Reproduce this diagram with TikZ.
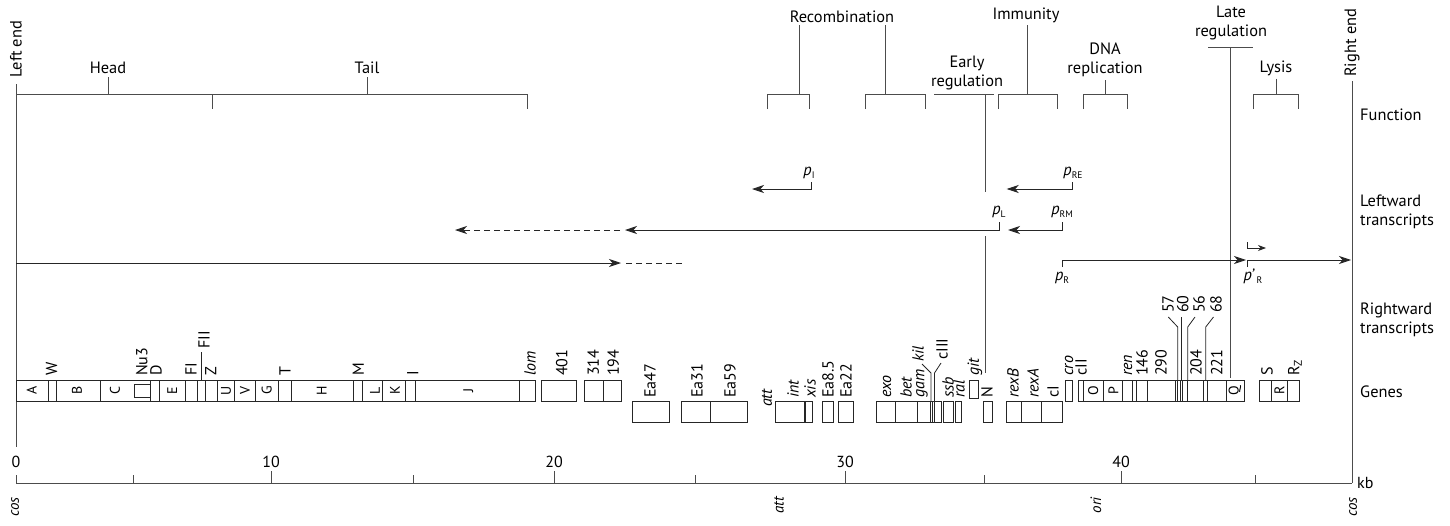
\documentclass[tikz,border=0pt]{standalone}
\usepackage{fontspec}
\setmainfont{PT Sans}
\usetikzlibrary{arrows.meta,positioning,calc}
\newcommand\prmLbl[1]{{\itshape p}\raisebox{-3pt}{\fontsize{9.5}{9.5}\selectfont #1}}
\tikzset{
  gnBox/.style={draw=black!85, line width=0.8pt},
  gnLbl/.style={rotate=90, anchor=west, inner sep=0pt, font=\fontsize{16}{16}\selectfont},
  gnIn/.style={rotate=90, inner sep=0pt, font=\fontsize{14}{14}\selectfont},
  fnTxt/.style={align=center, inner sep=3pt, font=\fontsize{16.4}{19.5}\selectfont},
  rowTxt/.style={anchor=west, align=left, inner sep=0pt, font=\fontsize{16.4}{19}\selectfont},
  endTxt/.style={rotate=90, anchor=west, inner sep=0pt, font=\fontsize{16.4}{16}\selectfont},
  axTxt/.style={inner sep=0pt, font=\fontsize{16}{16}\selectfont},
  siteTxt/.style={rotate=90, anchor=east, inner sep=0pt, font=\fontsize{15}{15}\selectfont\itshape},
  brk/.style={draw=black!70, line width=0.9pt},
  trLine/.style={draw=black!85, line width=0.9pt},
  trArr/.style={trLine, -{Stealth[length=12pt,width=8pt,inset=3.5pt]}},
  trDash/.style={trArr, dash pattern=on 6pt off 4pt},
  prTxt/.style={inner sep=0pt, font=\fontsize{16.4}{16}\selectfont},
}
\begin{document}
\begin{tikzpicture}[x=1pt, y=-1pt]
\useasboundingbox (0,0) rectangle (1450,525);

%% Ends of the map
\node[endTxt] (lEnd) at (16,78) {Left end};
\node[endTxt] (rEnd) at (1352,77) {Right end};
\draw[brk] (16,84) -- (16,447);
\draw[brk] (1352,81) -- (1352,483);

%% Function brackets
\node[fnTxt] (fHead) at (108,68) {Head};
\node[fnTxt] (fTail) at (367,68) {Tail};
\draw[brk] (16,94) -- (527,94) (212,94) -- (212,109) (527,94) -- (527,109);
\draw[brk] (fHead.south) -- (fHead.south |- 0,94);
\draw[brk] (fTail.south) -- (fTail.south |- 0,94);

\node[fnTxt] (fRecomb) at (842,17) {Recombination};
\draw[brk] (799.3,25) -- (799.3,94) (767,109) -- (767,94) -- (809.3,94) -- (809.3,109);
\draw[brk] (885,25) -- (885,94) (865.7,109) -- (865.7,94) -- (925,94) -- (925,109);

\node[fnTxt] (fEarly) at (967,73) {Early\\regulation};
\draw[brk] (934,94) -- (994,94) (985,94) -- (985,192) (985,236) -- (985,373);

\node[fnTxt] (fImm) at (1026,15) {Immunity};
\draw[brk] (1027.3,25) -- (1027.3,94) (998.7,109) -- (998.7,94) -- (1057.7,94) -- (1057.7,109);

\node[fnTxt] (fDNA) at (1105,60) {DNA\\replication};
\draw[brk] (fDNA.south) -- (fDNA.south |- 0,94) (1083.3,109) -- (1083.3,94) -- (1127.3,94) -- (1127.3,109);

\node[fnTxt] (fLate) at (1231,23) {Late\\regulation};
\draw[brk] (1208.3,47.7) -- (1252.7,47.7) (1230.7,47.7) -- (1230.7,378);

\node[fnTxt] (fLysis) at (1276,68) {Lysis};
\draw[brk] (fLysis.south) -- (fLysis.south |- 0,94) (1253.3,109) -- (1253.3,94) -- (1298.3,94) -- (1298.3,109);

%% Row titles
\node[rowTxt] (rFunc) at (1360,115) {Function};
\node[rowTxt] (rLeft) at (1360,212) {Leftward\\transcripts};
\node[rowTxt] (rRight) at (1360,320) {Rightward\\transcripts};
\node[rowTxt] (rGenes) at (1360,392) {Genes};

%% Leftward transcripts
\node[prTxt] (pI) at (809,173) {\prmLbl{I}};
\draw[trArr] (811.7,182) -- (811.7,189) -- (752,189);
\node[prTxt] (pRE) at (1073,173) {\prmLbl{RE}};
\draw[trArr] (1072.7,182) -- (1072.7,189) -- (1006.7,189);
\node[prTxt] (pL) at (999,212) {\prmLbl{L}};
\draw[trArr] (999,222) -- (999,230) -- (625,230);
\draw[trDash] (620,230) -- (455,230);
\node[prTxt] (pRM) at (1062,212) {\prmLbl{RM}};
\draw[trArr] (1062.7,222) -- (1062.7,230) -- (1008,230);

%% Rightward transcripts
\draw[trArr] (16,263) -- (621,263);
\draw[trLine, dash pattern=on 6pt off 4pt] (626,263) -- (683,263);
\node[prTxt] (pR) at (1062,278) {\prmLbl{R}};
\draw[trArr] (1062.7,267) -- (1062.7,260) -- (1246,260);
\node[prTxt] (pRp) at (1253,276) {{\itshape p’}\,\raisebox{-3pt}{\fontsize{9.5}{9.5}\selectfont R}};
\draw[trArr] (1247.7,267) -- (1247.7,260) -- (1351,260);
\draw[trLine, -{Stealth[length=8pt,width=6pt,inset=2.5pt]}] (1247.7,242) -- (1247.7,248) -- (1266,248);

%% Genes, upper band
\draw[gnBox] (16,380) rectangle (535.7,401);
\foreach \x in {48.3,56,100,150.7,159.3,185.7,197.3,205.7,217.3,234.3,255.3,278.3,291.7,353.3,362.7,382.7,405.7,415.7,519.3}
  \draw[gnBox] (\x,380) -- (\x,401);
\draw[gnBox] (134.3,384) rectangle (150.7,397);
\draw[gnBox] (541.3,380) rectangle (576,401);
\draw[gnBox] (584.3,380) rectangle (621.7,401) (603.3,380) -- (603.3,401);
\draw[gnBox] (969,380) rectangle (978.3,398);
\draw[gnBox] (1065.7,380) rectangle (1072.7,401);
\draw[gnBox] (1078.3,380) rectangle (1244,401);
\foreach \x in {1083.3,1103.3,1122.3,1132.7,1136.7,1147.7,1175,1177.7,1180,1182.7,1187.7,1203.3,1207.3,1226}
  \draw[gnBox] (\x,380) -- (\x,401);
\draw[gnBox] (1259,380) rectangle (1299.3,401) (1271.7,380) -- (1271.7,401) (1287.3,380) -- (1287.3,401);

%% Genes, lower band
\draw[gnBox] (632.7,401) rectangle (669,422.5);
\draw[gnBox] (681.7,401) rectangle (747.7,422.5) (710,401) -- (710,422.5);
\draw[gnBox] (775.7,401) rectangle (812.7,422.5);
\draw[gnBox, line width=2pt] (805,401) -- (805,422.5);
\draw[gnBox] (822.3,401) rectangle (833.3,422.5);
\draw[gnBox] (838.3,401) rectangle (853.3,422.5);
\draw[gnBox] (876.7,401) rectangle (941.7,422.5);
\foreach \x in {895.3,917.7,930,932.3,934.3}
  \draw[gnBox] (\x,401) -- (\x,422.5);
\draw[gnBox] (943.3,401) rectangle (953.3,422.5);
\draw[gnBox] (955.7,401) rectangle (961.7,422.5);
\draw[gnBox] (983.3,401) rectangle (992.7,422.5);
\draw[gnBox] (1006,401) rectangle (1062.7,422.5) (1021,401) -- (1021,422.5) (1041.7,401) -- (1041.7,422.5);

%% Gene names inside the boxes
\foreach \x/\t [count=\i] in {31.7/A,77/B,115/C,172.3/E,226/U,245/V,266.7/G,321.7/H,375/L,395/K,468.3/J,1093.3/O,1113.3/P,1235/Q,1279.5/R}
  \node[gnIn] (gIn\i) at (\x,390.5) {\t};

%% Gene names above the upper band
\foreach \x/\t [count=\i] in {51.7/W,141.7/Nu3,156/D,191/FI,210.7/Z,285/T,358.3/M,412.7/I,530/{\itshape lom},561.7/401,593.3/314,613.3/194,975/{\itshape git},1069/{\itshape cro},1081/cII,1128/{\itshape ren},1142/146,1161/290,1196/204,1216.7/221,1267/S,1295/R\textsubscript{Z}}
  \node[gnLbl] (gUp\i) at (\x,376) {\t};
\node[gnLbl] (gFII) at (204,349) {FII};
\draw[gnBox] (201.5,380) -- (201.5,352);
\foreach \x/\t [count=\i] in {1168/57,1182.7/60,1199/56,1216/68}
  \node[gnLbl] (gHi\i) at (\x,313) {\t};
\draw[gnBox] (1177.7,380) -- (1177.7,327) -- (1168.3,317);
\draw[gnBox] (1181.3,380) -- (1181.3,317);
\draw[gnBox] (1187.7,380) -- (1187.7,327) -- (1195,317);
\draw[gnBox] (1205.7,380) -- (1205.7,327) -- (1213.5,317);

%% Gene names above the lower band
\foreach \x/\t [count=\i] in {650/Ea47,697/Ea31,730/Ea59,793/{\itshape int},810/{\itshape xis},828/Ea8.5,846/Ea22,887/{\itshape exo},906/{\itshape bet},922/{\itshape gam},948/{\itshape ssb},959/{\itshape ral},987/N,1013/{\itshape rexB},1033/{\itshape rexA},1053/cI}
  \node[gnLbl] (gLo\i) at (\x,398) {\t};
\node[gnLbl] (gAtt) at (767,407) {\itshape att};
\node[gnLbl] (gKil) at (918,362) {\itshape kil};
\node[gnLbl] (gCIII) at (942,360) {cIII};
\draw[gnBox] (931,401) -- (931,373) -- (922,364);
\draw[gnBox] (934.5,401) -- (934.5,373) -- (941,363);

%% kb axis
\draw[brk] (16,483) -- (1352,483);
\foreach \x in {16,133,413,695,984,1255}
  \draw[brk] (\x,475) -- (\x,483);
\foreach \x in {271,554,845,1121}
  \draw[brk] (\x,471) -- (\x,483);
\foreach \x/\t [count=\i] in {16/0,271/10,554/20,845/30,1121/40}
  \node[axTxt] (ax\i) at (\x,462) {\t};
\node[axTxt, anchor=west] (kb) at (1357,483) {kb};
\foreach \x/\t [count=\i] in {15/cos,779/att,1096/ori,1353/cos}
  \node[siteTxt] (site\i) at (\x,497) {\t};

\end{tikzpicture}
\end{document}
